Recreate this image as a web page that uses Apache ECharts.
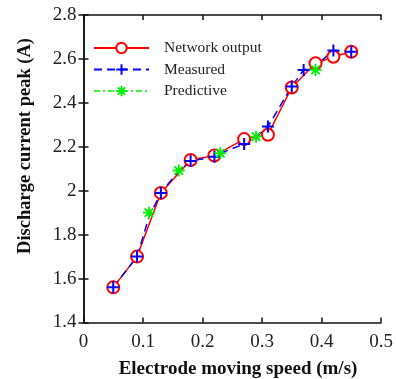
<!DOCTYPE html>
<html><head><meta charset="utf-8">
<script src="https://cdn.jsdelivr.net/npm/echarts@6/dist/echarts.min.js"></script>
<style>html,body{margin:0;padding:0;background:#fff}#c{width:396px;height:379px}</style>
</head><body><div id="c"></div>
<script>
const netX = [0.05,0.09,0.13,0.18,0.22,0.27,0.31,0.35,0.39,0.42,0.45];
const netY = [1.56,1.70,1.99,2.14,2.16,2.235,2.255,2.47,2.58,2.61,2.633];
const measX = [0.05,0.09,0.11,0.13,0.16,0.18,0.22,0.23,0.27,0.29,0.31,0.35,0.37,0.39,0.42,0.45];
const measY = [1.56,1.70,1.88,1.99,2.09,2.135,2.155,2.17,2.213,2.245,2.292,2.475,2.55,2.57,2.638,2.633];
const measMarker = [true,true,false,true,false,true,true,false,true,false,true,true,true,false,true,true];
const predX = [0.11,0.16,0.23,0.29,0.39];
const predY = [1.90,2.092,2.171,2.246,2.55];
const xTicks = [0,0.1,0.2,0.3,0.4,0.5];
const yTicks = [1.4,1.6,1.8,2,2.2,2.4,2.6,2.8];

const FONT = 'Liberation Serif';
const plus = 'path://M0,-10 L0,10 M-10,0 L10,0';
const star = 'path://M0,-10 L0,10 M-10,0 L10,0 M-7,-7 L7,7 M-7,7 L7,-7';
const chart = echarts.init(document.getElementById('c'));
const axisCommon = {
  axisLine:{show:true,lineStyle:{color:'#111',width:1.5}},
  axisTick:{show:true,inside:true,length:5,lineStyle:{color:'#111',width:1.5}},
  splitLine:{show:false}
};
chart.setOption({
  animation:false,
  grid:{left:83.5,right:15,top:15,bottom:56.5},
  xAxis:[
    Object.assign({type:'value',min:xTicks[0],max:xTicks[xTicks.length-1],interval:0.1,position:'bottom',
      axisLabel:{fontFamily:FONT,fontSize:19,color:'#222',margin:10}},axisCommon),
    Object.assign({type:'value',min:xTicks[0],max:xTicks[xTicks.length-1],interval:0.1,position:'top',
      axisLabel:{show:false}},axisCommon)
  ],
  yAxis:[
    Object.assign({type:'value',min:yTicks[0],max:yTicks[yTicks.length-1],interval:0.2,position:'left',
      axisLabel:{fontFamily:FONT,fontSize:19,color:'#222',margin:7}},axisCommon),
    Object.assign({type:'value',min:yTicks[0],max:yTicks[yTicks.length-1],interval:0.2,position:'right',
      axisLabel:{show:false}},axisCommon)
  ],
  legend:{
    orient:'vertical',left:93,top:40,padding:0,itemWidth:55,itemHeight:13,itemGap:5.5,
    textStyle:{fontFamily:FONT,fontSize:15.5,color:'#222',padding:[0,0,0,10]},
    data:[
      {name:'Network output'},
      {name:'Measured'},
      {name:'Predictive',lineStyle:{color:'#00ee00',width:1.5,type:[6,3,2,3],opacity:1}}
    ]
  },
  graphic:[
    {type:'text',x:238,y:369,style:{text:'Electrode moving speed (m/s)',font:'bold 19px "Liberation Serif"',fill:'#111',align:'center',verticalAlign:'middle'}},
    {type:'text',x:25,y:146,rotation:Math.PI/2,style:{text:'Discharge current peak (A)',font:'bold 18.5px "Liberation Serif"',fill:'#111',align:'center',verticalAlign:'middle'}}
  ],
  series:[
    {name:'Network output',type:'line',data:netX.map((x,i)=>[x,netY[i]]),
      symbol:'emptyCircle',symbolSize:12,
      lineStyle:{color:'#ff0000',width:1.5},
      itemStyle:{color:'#ff0000',borderColor:'#ff0000',borderWidth:1.5}},
    {name:'Measured',type:'line',
      data:measX.map((x,i)=>measMarker[i]?[x,measY[i]]:{value:[x,measY[i]],symbol:'none'}),
      symbol:plus,symbolSize:12,
      lineStyle:{color:'#0000ff',width:1.5,type:[8,5]},
      itemStyle:{color:'#0000ff',borderColor:'#0000ff',borderWidth:2}},
    {name:'Predictive',type:'line',data:predX.map((x,i)=>[x,predY[i]]),
      symbol:star,symbolSize:12,
      lineStyle:{color:'#00ee00',width:0,opacity:0},
      itemStyle:{color:'#00ee00',borderColor:'#00ee00',borderWidth:1.8}}
  ]
});
</script></body></html>
